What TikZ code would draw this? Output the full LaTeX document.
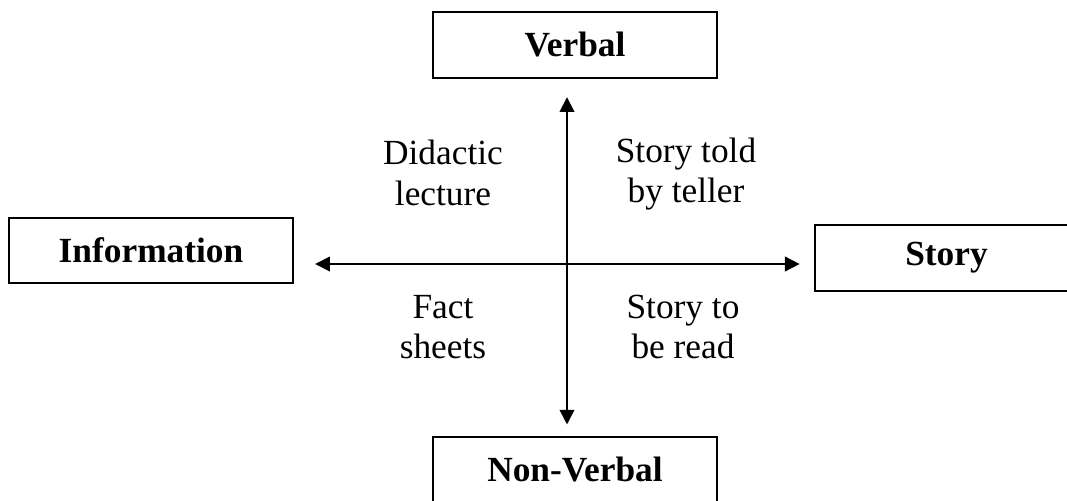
\documentclass[tikz,border=0pt]{standalone}
\usepackage{fontspec}
\setmainfont{Liberation Serif}
\usetikzlibrary{arrows.meta, calc}

\tikzset{
    axisbox/.style={draw, line width=1.3pt, minimum width=213pt, minimum height=49pt, inner sep=0pt, font=\fontsize{26.5}{30}\selectfont\bfseries},
    quadtext/.style={align=center, inner sep=0pt, font=\fontsize{26.5}{30.5}\selectfont},
    axisarrow/.style={line width=1.3pt, {Triangle[length=11pt,width=11pt]}-{Triangle[length=11pt,width=11pt]}}
}

\begin{document}
\begin{tikzpicture}[x=0.75pt, y=-0.75pt]
            \useasboundingbox (0,0) rectangle (1067,500);
            \clip (0,0) rectangle (1067,500);
            \node[axisbox] (verbal) at (575, 45) {Verbal};
            \node[axisbox] (nonverbal) at (575, 470) {Non-Verbal};
            \node[axisbox] (info) at (151, 250.5) {Information};
            \node[axisbox, minimum width=197pt] (story) at (946.5, 258) {Story};
            \coordinate (cross) at (567, 264);
            \draw[axisarrow, shorten <=14pt, shorten >=9pt] (verbal.south -| cross) -- (nonverbal.north -| cross);
            \draw[axisarrow, shorten <=16pt, shorten >=11pt] (info.east |- cross) -- (story.west |- cross);
            \node[quadtext] (didactic) at (443, 173) {Didactic\\lecture};
            \node[quadtext] (told) at (686, 174) {Story told\\by teller};
            \node[quadtext] (fact) at (443, 327) {Fact\\sheets};
            \node[quadtext] (read) at (683, 327) {Story to\\be read};
\end{tikzpicture}
\end{document}
